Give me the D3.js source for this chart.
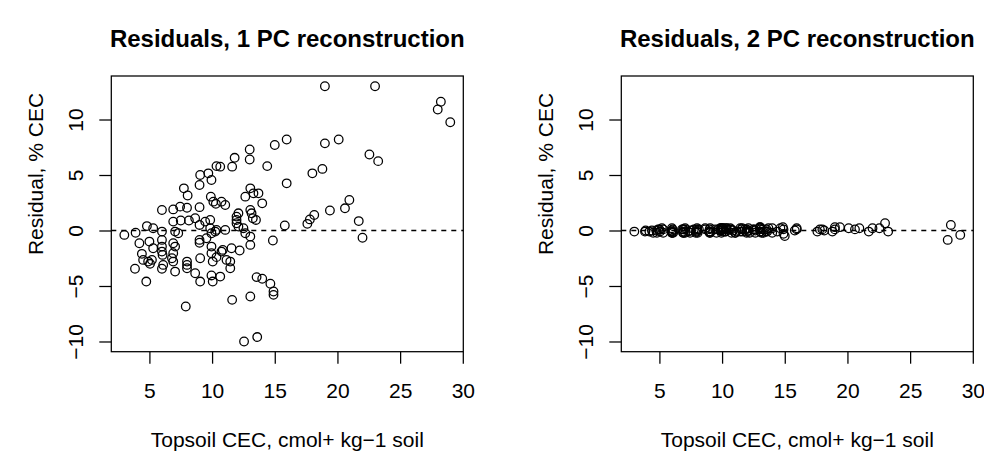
<!DOCTYPE html>
<html>
<head>
<meta charset="utf-8">
<script src="https://cdn.jsdelivr.net/npm/d3@7"></script>
<style>
  body { margin: 0; background: #fff; }
  text { font-family: "Liberation Sans", Arial, Helvetica, sans-serif; fill: #000; }
</style>
</head>
<body>
<div id="chart"></div>
<script>
// topsoil CEC (x) and residuals from 1 PC and 2 PC reconstructions
var cec = [19.0, 23.0, 28.25, 28.0, 29.0, 15.95, 15.0, 13.0, 13.0, 11.8,
  11.6, 10.65, 14.4, 15.95, 19.0, 20.1, 22.55, 23.25, 18.0, 18.8,
  20.95, 20.6, 19.4, 18.15, 17.8, 17.6, 15.8, 21.7, 22.0, 14.85,
  10.35, 9.05, 9.7, 9.95, 9.0, 7.75, 8.05, 9.9, 10.1, 10.3,
  10.75, 11.05, 13.05, 13.3, 13.7, 12.65, 14.0, 6.0, 6.9, 7.45,
  8.0, 9.0, 13.05, 13.15, 13.25, 13.5, 12.1, 11.95, 11.95, 11.95,
  12.1, 12.5, 12.65, 13.05, 13.05, 13.55, 14.0, 14.65, 14.9, 14.9,
  13.05, 11.6, 7.9, 12.55, 13.6, 3.0, 3.9, 4.8, 5.3, 6.0,
  7.05, 7.3, 8.15, 6.9, 7.5, 8.65, 9.0, 9.45, 9.55, 9.95,
  10.25, 10.35, 11.05, 9.85, 9.85, 4.2, 5.0, 5.3, 6.0, 6.0,
  6.0, 6.05, 6.9, 7.05, 6.9, 4.4, 4.5, 4.9, 5.05, 5.2,
  3.85, 4.75, 6.0, 6.9, 7.05, 8.0, 8.0, 8.0, 8.65, 9.0,
  9.05, 9.05, 9.95, 9.95, 10.05, 9.95, 10.05, 10.65, 10.75, 11.45,
  11.45, 11.55, 12.2, 10.85, 10.35, 11.15, 9.0, 6.1, 6.8];

var resid1 = [13.0, 13.0, 11.6, 10.9, 9.75, 8.2, 7.7, 7.3, 6.4, 6.55,
  5.75, 5.75, 5.8, 4.25, 7.85, 8.2, 6.85, 6.25, 5.15, 5.55,
  2.75, 2.0, 1.8, 1.4, 1.0, 0.6, 0.45, 0.85, -0.65, -0.9,
  5.8, 5.0, 5.15, 4.55, 4.1, 3.8, 3.15, 3.05, 2.6, 2.4,
  2.6, 2.3, 3.8, 3.35, 3.35, 3.05, 2.45, 1.85, 1.9, 2.15,
  2.05, 2.1, 1.85, 1.55, 1.1, 0.95, 1.55, 1.25, 0.95, 0.65,
  0.35, 0.2, -0.25, -0.55, -1.3, -4.2, -4.35, -4.8, -5.5, -5.8,
  -5.95, -6.25, -6.85, -10.0, -9.6, -0.4, -0.2, 0.4, 0.2, -0.1,
  -0.1, -0.25, 0.9, 0.8, 0.9, 1.1, 0.5, 0.8, -0.7, -0.25,
  -0.1, 0.05, 0.05, 0.95, 0.2, -1.15, -1.0, -1.6, -0.85, -1.45,
  -1.9, -2.2, -1.15, -1.45, -2.05, -2.1, -2.65, -2.8, -3.0, -2.65,
  -3.45, -4.6, -3.45, -2.8, -3.7, -2.8, -3.1, -3.4, -3.85, -1.1,
  -2.5, -4.6, -1.45, -2.05, -2.8, -4.05, -4.6, -4.15, -1.9, -2.8,
  -3.4, -1.6, -1.8, -1.75, -2.4, -2.65, -0.85, -3.1, -2.5];

var resid2 = [0.1, 0.65, 0.5, -0.85, -0.4, 0.1, -0.5, 0.3, 0.2, 0.1,
  -0.1, 0.2, -0.1, 0.2, 0.3, 0.2, 0.2, -0.1, 0.1, -0.1,
  0.2, 0.1, 0.3, 0.0, 0.1, -0.1, 0.0, -0.1, 0.2, 0.3,
  0.2, -0.2, 0.1, 0.2, -0.1, 0.1, -0.2, 0.0, 0.2, -0.1,
  0.1, -0.2, 0.1, -0.2, 0.2, 0.0, 0.2, -0.1, 0.1, -0.2,
  0.1, -0.1, 0.3, -0.2, 0.1, -0.1, 0.2, -0.1, 0.1, -0.2,
  0.0, 0.1, -0.2, 0.2, -0.1, 0.1, -0.2, 0.2, -0.3, 0.1,
  -0.1, 0.2, -0.2, 0.1, -0.1, -0.1, 0.0, -0.2, 0.1, -0.2,
  0.2, -0.1, 0.1, -0.2, 0.0, 0.2, -0.1, 0.1, -0.2, 0.2,
  -0.1, 0.1, -0.2, 0.0, 0.2, -0.1, 0.1, -0.2, 0.2, 0.0,
  -0.1, 0.1, -0.2, 0.1, -0.1, 0.0, -0.2, 0.1, -0.1, 0.2,
  -0.1, 0.0, -0.2, 0.1, -0.2, 0.2, -0.1, 0.0, 0.1, -0.2,
  0.2, -0.1, 0.1, -0.2, 0.2, 0.0, -0.1, 0.1, -0.2, 0.2,
  -0.1, 0.1, -0.2, 0.0, 0.2, -0.1, 0.1, -0.2, 0.1];

var xTicks = [5, 10, 15, 20, 25, 30];
var yTicks = [-10, -5, 0, 5, 10];
var titles = ["Residuals, 1 PC reconstruction", "Residuals, 2 PC reconstruction"];
var series = [resid1, resid2];

var W = 984, H = 452,
  margin = {top: 76, left: 111.3},
  panelStep = 510,
  width = 352,
  height = 275.7,
  lw = 1.26,
  fs = 21;

// R style ranges: data extent padded by 4%
function pad(ext) {
  var r = ext[1] - ext[0];
  return [ext[0] - 0.04 * r, ext[1] + 0.04 * r];
}

var x = d3.scaleLinear().domain(pad(d3.extent(cec))).range([0, width]);
var y = d3.scaleLinear().domain(pad(d3.extent(resid1))).range([height, 0]);

var svg = d3.select("#chart")
  .append("svg")
  .attr("width", W)
  .attr("height", H);

series.forEach(function(vals, i) {
  var g = svg.append("g")
    .attr("transform", "translate(" + (margin.left + i * panelStep) + "," + margin.top + ")");

  // zero line
  g.append("line")
    .attr("x1", 0).attr("x2", width)
    .attr("y1", y(0)).attr("y2", y(0))
    .attr("stroke", "#000")
    .attr("stroke-width", lw)
    .attr("stroke-dasharray", "5,5");

  g.selectAll("circle")
    .data(cec)
    .enter()
    .append("circle")
    .attr("cx", function(d) { return x(d); })
    .attr("cy", function(d, j) { return y(vals[j]); })
    .attr("r", 4.3)
    .attr("fill", "none")
    .attr("stroke", "#000")
    .attr("stroke-width", lw);

  var xAxis = d3.axisBottom(x).tickValues(xTicks).tickSize(12).tickPadding(19.7);
  var gx = g.append("g")
    .attr("transform", "translate(0," + height + ")")
    .call(xAxis);
  gx.select(".domain").remove();
  gx.selectAll("line").attr("stroke-width", lw);
  gx.selectAll("text").attr("font-size", fs + "px").style("font-family", "Liberation Sans, Arial, sans-serif");

  var yAxis = d3.axisLeft(y).tickValues(yTicks).tickSize(12);
  var gy = g.append("g").call(yAxis);
  gy.select(".domain").remove();
  gy.selectAll("line").attr("stroke-width", lw);
  gy.selectAll("text")
    .attr("x", null)
    .attr("dy", null)
    .attr("text-anchor", "middle")
    .attr("transform", "translate(-28.8,0) rotate(-90)")
    .attr("font-size", fs + "px")
    .style("font-family", "Liberation Sans, Arial, sans-serif")
    .text(function(d) { return d < 0 ? "\u2212" + Math.abs(d) : d; });

  // box
  g.append("rect")
    .attr("width", width)
    .attr("height", height)
    .attr("fill", "none")
    .attr("stroke", "#000")
    .attr("stroke-width", lw);

  g.append("text")
    .attr("x", width / 2)
    .attr("y", 47 - margin.top)
    .attr("text-anchor", "middle")
    .attr("font-size", "24px")
    .attr("font-weight", "bold")
    .text(titles[i]);

  g.append("text")
    .attr("x", width / 2)
    .attr("y", 446.5 - margin.top)
    .attr("text-anchor", "middle")
    .attr("font-size", fs + "px")
    .text("Topsoil CEC, cmol+ kg\u22121 soil");

  g.append("text")
    .attr("transform", "translate(" + (42.5 - margin.left) + "," + (174 - margin.top) + ") rotate(-90)")
    .attr("text-anchor", "middle")
    .attr("font-size", fs + "px")
    .text("Residual, % CEC");
});
</script>
</body>
</html>
